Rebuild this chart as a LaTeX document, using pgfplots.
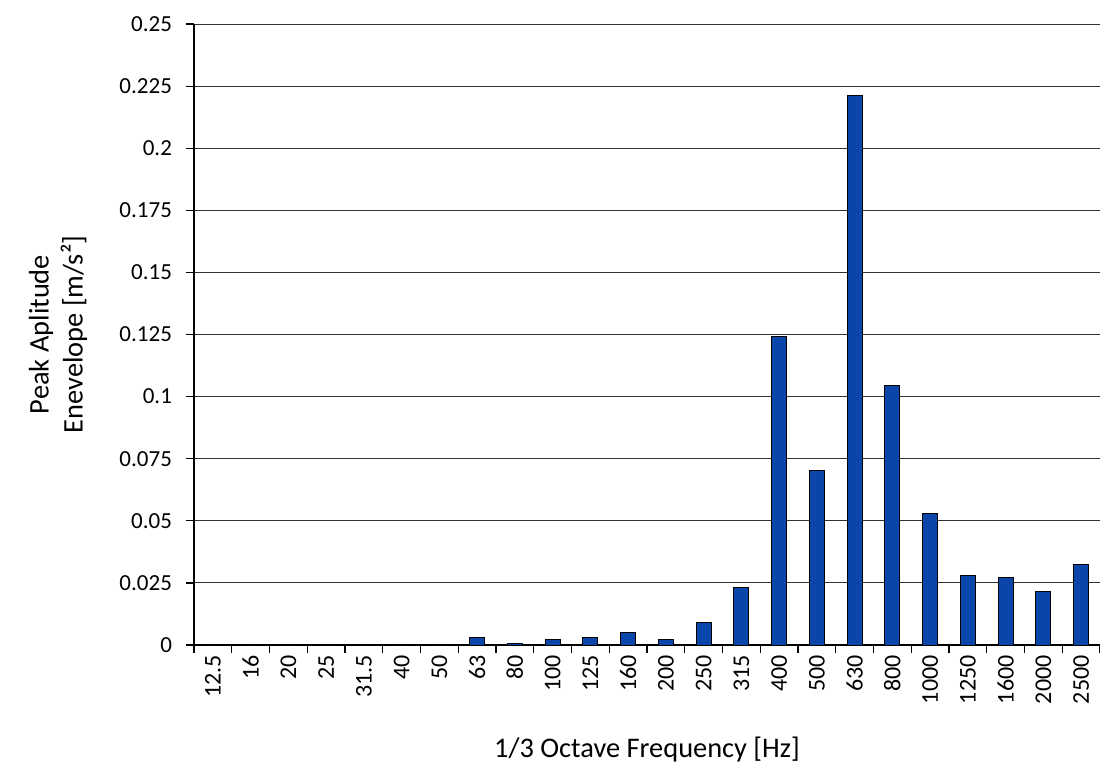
\documentclass[border=0pt]{standalone}
\usepackage{fontspec}
\setmainfont{Carlito}
\usepackage{pgfplots}
\pgfplotsset{compat=1.18}
\definecolor{barblue}{RGB}{10,70,170}
\begin{document}
\begin{tikzpicture}
\path[use as bounding box] (-97pt,-61pt) rectangle (453pt,322.5pt);
\begin{axis}[
    scale only axis,
    width=453pt, height=310.5pt,
    ybar, bar width=7.5pt,
    xmin=-0.5, xmax=23.5,
    ymin=0, ymax=0.25,
    axis x line*=bottom, axis y line*=left,
    axis line style={black, line width=0.6pt},
    xtick={0,...,23},
    xticklabels={12.5,16,20,25,31.5,40,50,63,80,100,125,160,200,250,315,400,500,630,800,1000,1250,1600,2000,2500},
    xticklabel style={rotate=90, anchor=east, inner sep=1pt, font=\fontsize{12}{14}\selectfont},
    major x tick style={draw=none},
    minor xtick={-0.5,0.5,...,23.5},
    minor x tick style={black, line width=0.6pt},
    ytick={0,0.025,...,0.25},
    yticklabels={0,0.025,0.05,0.075,0.1,0.125,0.15,0.175,0.2,0.225,0.25},
    yticklabel style={font=\fontsize{11.5}{14}\selectfont, xshift=-3.5pt},
    y tick style={black, line width=0.6pt},
    tick align=outside,
    major tick length=4pt, minor tick length=4pt,
    ymajorgrids=true,
    grid style={black!80, line width=0.5pt},
    ylabel={Peak Aplitude\\Enevelope [m/s²]},
    ylabel style={align=center, at={(axis description cs:0,0.5)}, anchor=center, yshift=68pt},
    xlabel={1/3 Octave Frequency [Hz]},
    xlabel style={at={(axis description cs:0.5,0)}, anchor=center, yshift=-52.5pt},
    label style={font=\fontsize{14.2}{17}\selectfont},
]
\addplot[fill=barblue, draw=black, line width=0.5pt] coordinates {
    (0,0) (1,0) (2,0) (3,0) (4,0) (5,0) (6,0)
    (7,0.0031) (8,0.0005) (9,0.0024) (10,0.003) (11,0.0052) (12,0.0024)
    (13,0.0089) (14,0.023) (15,0.124) (16,0.0703) (17,0.2212)
    (18,0.1046) (19,0.053) (20,0.0278) (21,0.0272) (22,0.0216) (23,0.0325)
};
\end{axis}
\end{tikzpicture}
\end{document}
